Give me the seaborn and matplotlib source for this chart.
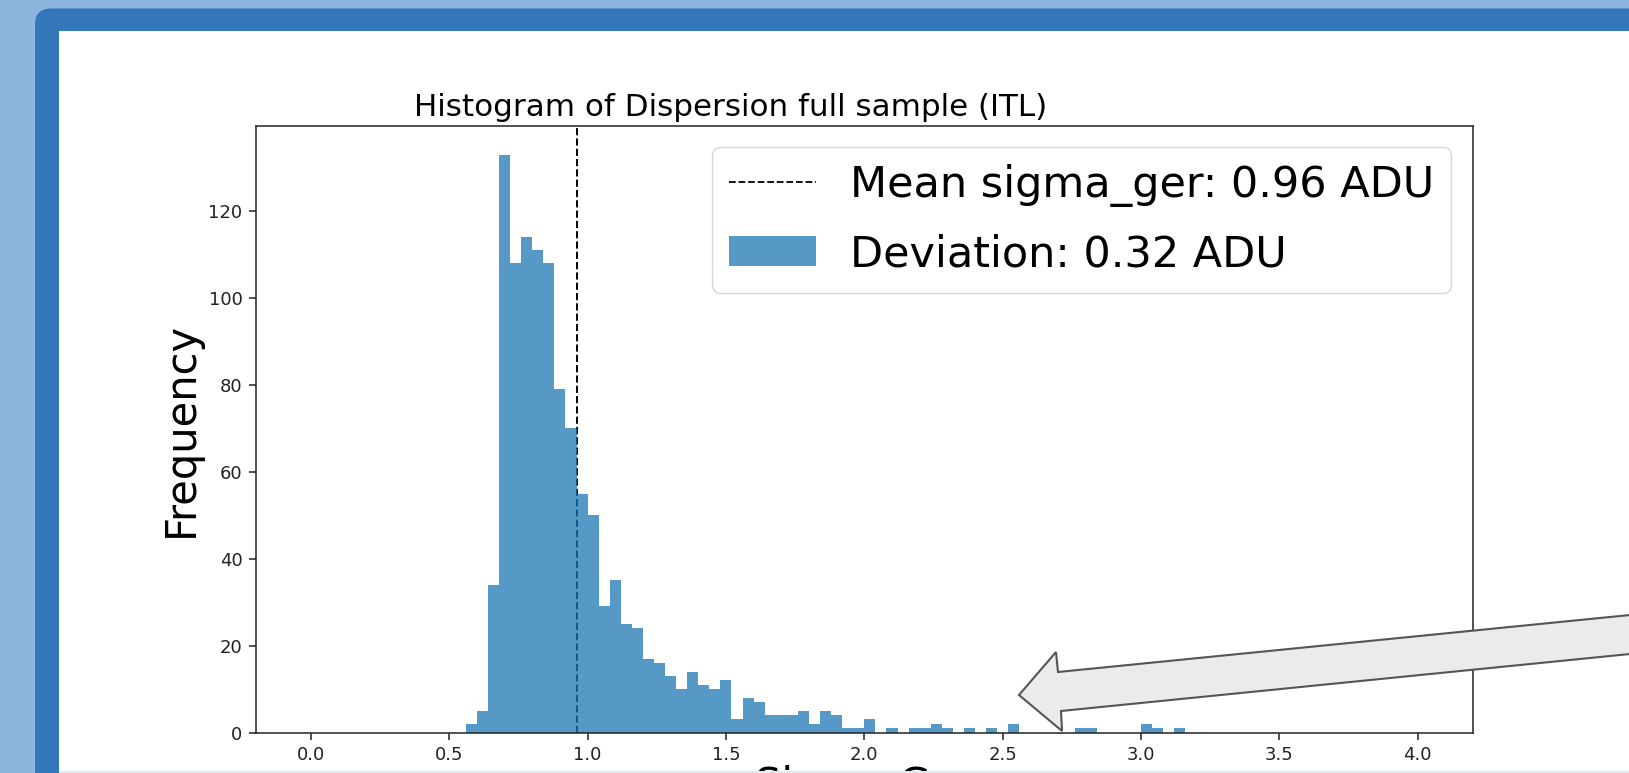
import numpy as np
import pandas as pd
import matplotlib
matplotlib.use("Agg")
import matplotlib.pyplot as plt
import seaborn as sns
from matplotlib.patches import Rectangle, FancyBboxPatch, Polygon, Patch
from matplotlib.lines import Line2D
from matplotlib.transforms import IdentityTransform

# ---------------- data ----------------
bin_lefts = [0.56, 0.60, 0.64, 0.68, 0.72, 0.76, 0.80, 0.84, 0.88, 0.92,
             0.96, 1.00, 1.04, 1.08, 1.12, 1.16, 1.20, 1.24, 1.28, 1.32,
             1.36, 1.40, 1.44, 1.48, 1.52, 1.56, 1.60, 1.64, 1.68, 1.72,
             1.76, 1.80, 1.84, 1.88, 1.92, 1.96, 2.00, 2.08, 2.16, 2.20,
             2.24, 2.28, 2.36, 2.44, 2.52, 2.76, 2.80, 3.00, 3.04, 3.12]
counts = [2, 5, 34, 133, 108, 114, 111, 108, 79, 70,
          55, 50, 29, 35, 25, 24, 17, 16, 13, 10,
          14, 11, 10, 12, 3, 8, 7, 4, 4, 4,
          5, 2, 5, 4, 1, 1, 3, 1, 1, 1,
          2, 1, 1, 1, 2, 1, 1, 2, 1, 1]
bin_width = 0.04
hist_range = (0.0, 4.0)
mean_sigma = 0.96
deviation = 0.32
title_text = "Histogram of Dispersion full sample (ITL)"
xlabel_text = "Sigma Ger"
ylabel_text = "Frequency"
xticks = [0.0, 0.5, 1.0, 1.5, 2.0, 2.5, 3.0, 3.5, 4.0]
yticks = [0, 20, 40, 60, 80, 100, 120]

# ---------------- figure ----------------
W, H = 1629, 773
plt.rcParams['font.family'] = ['DejaVu Sans']
fig = plt.figure(figsize=(W / 100, H / 100), dpi=100)
fig.patch.set_facecolor('#8cb4dd')

ident = IdentityTransform()
# slide frame (pixel coordinates, origin bottom-left)
frame = FancyBboxPatch((35, -40), 1700, H - 8.5 + 40,
                       boxstyle="round,pad=0,rounding_size=16",
                       facecolor='#3376ba', edgecolor='none',
                       transform=ident, zorder=-10)
fig.add_artist(frame)
panel = Rectangle((59, 2), 1700, H - 31 - 2, facecolor='white',
                  edgecolor='none', transform=ident, zorder=-9)
fig.add_artist(panel)

ax_left, ax_right, ax_top, ax_bottom = 255.6, 1473.0, 125.7, 732.5
ax = fig.add_axes([ax_left / W, (H - ax_bottom) / H,
                   (ax_right - ax_left) / W, (ax_bottom - ax_top) / H])
ax.set_facecolor('white')

df = pd.DataFrame({"sigma": np.array(bin_lefts) + bin_width / 2,
                   "count": counts})

bar_color = '#1f77b4'
ax.axvline(mean_sigma, color='black', linestyle='--', linewidth=1.4, zorder=1)
sns.histplot(data=df, x="sigma", weights="count", binwidth=bin_width,
             binrange=hist_range, color=bar_color, alpha=0.75,
             linewidth=0, edgecolor='none', ax=ax, zorder=2)

ax.set_xticks(xticks)
ax.set_yticks(yticks)
ax.set_xticklabels([f"{t:.1f}" for t in xticks])
ax.tick_params(labelsize=13, length=4.8, width=1.1, pad=4.6,
               colors='#222222', direction='out')
for s in ax.spines.values():
    s.set_visible(True)
    s.set_linewidth(1.1)
    s.set_color('#222222')

ax.set_title(title_text, fontsize=22.3, x=0.39, pad=7)
ax.set_ylabel(ylabel_text, fontsize=30, labelpad=5)
ax.set_xlabel(xlabel_text, fontsize=30, labelpad=1)

handles = [Line2D([0], [0], color='black', linestyle='--', linewidth=1.3),
           Patch(facecolor=bar_color, alpha=0.75, edgecolor='none')]
labels = [f"Mean sigma_ger: {mean_sigma:.2f} ADU",
          f"Deviation: {deviation:.2f} ADU"]
ax.legend(handles, labels, loc='upper right', fontsize=31,
          labelspacing=0.6, frameon=True, fancybox=True, framealpha=0.8,
          edgecolor='#cccccc')

# pale strip along the bottom edge of the slide
strip = Rectangle((59, 0), 1700, 2, facecolor='#dfe9f4',
                  edgecolor='none', transform=ident, zorder=15)
fig.add_artist(strip)

# call-out arrow (pixel coordinates, y measured from top)
arrow_pts = [(1019, 695), (1056, 652), (1058, 672), (1640, 614),
             (1640, 653), (1061, 711), (1062, 731)]
arrow = Polygon([(x, H - y) for x, y in arrow_pts], closed=True,
                facecolor='#ebebeb', edgecolor='#555555', linewidth=1.5,
                transform=ident, zorder=20)
fig.add_artist(arrow)

fig.savefig("out.png", dpi=100, facecolor=fig.get_facecolor())
